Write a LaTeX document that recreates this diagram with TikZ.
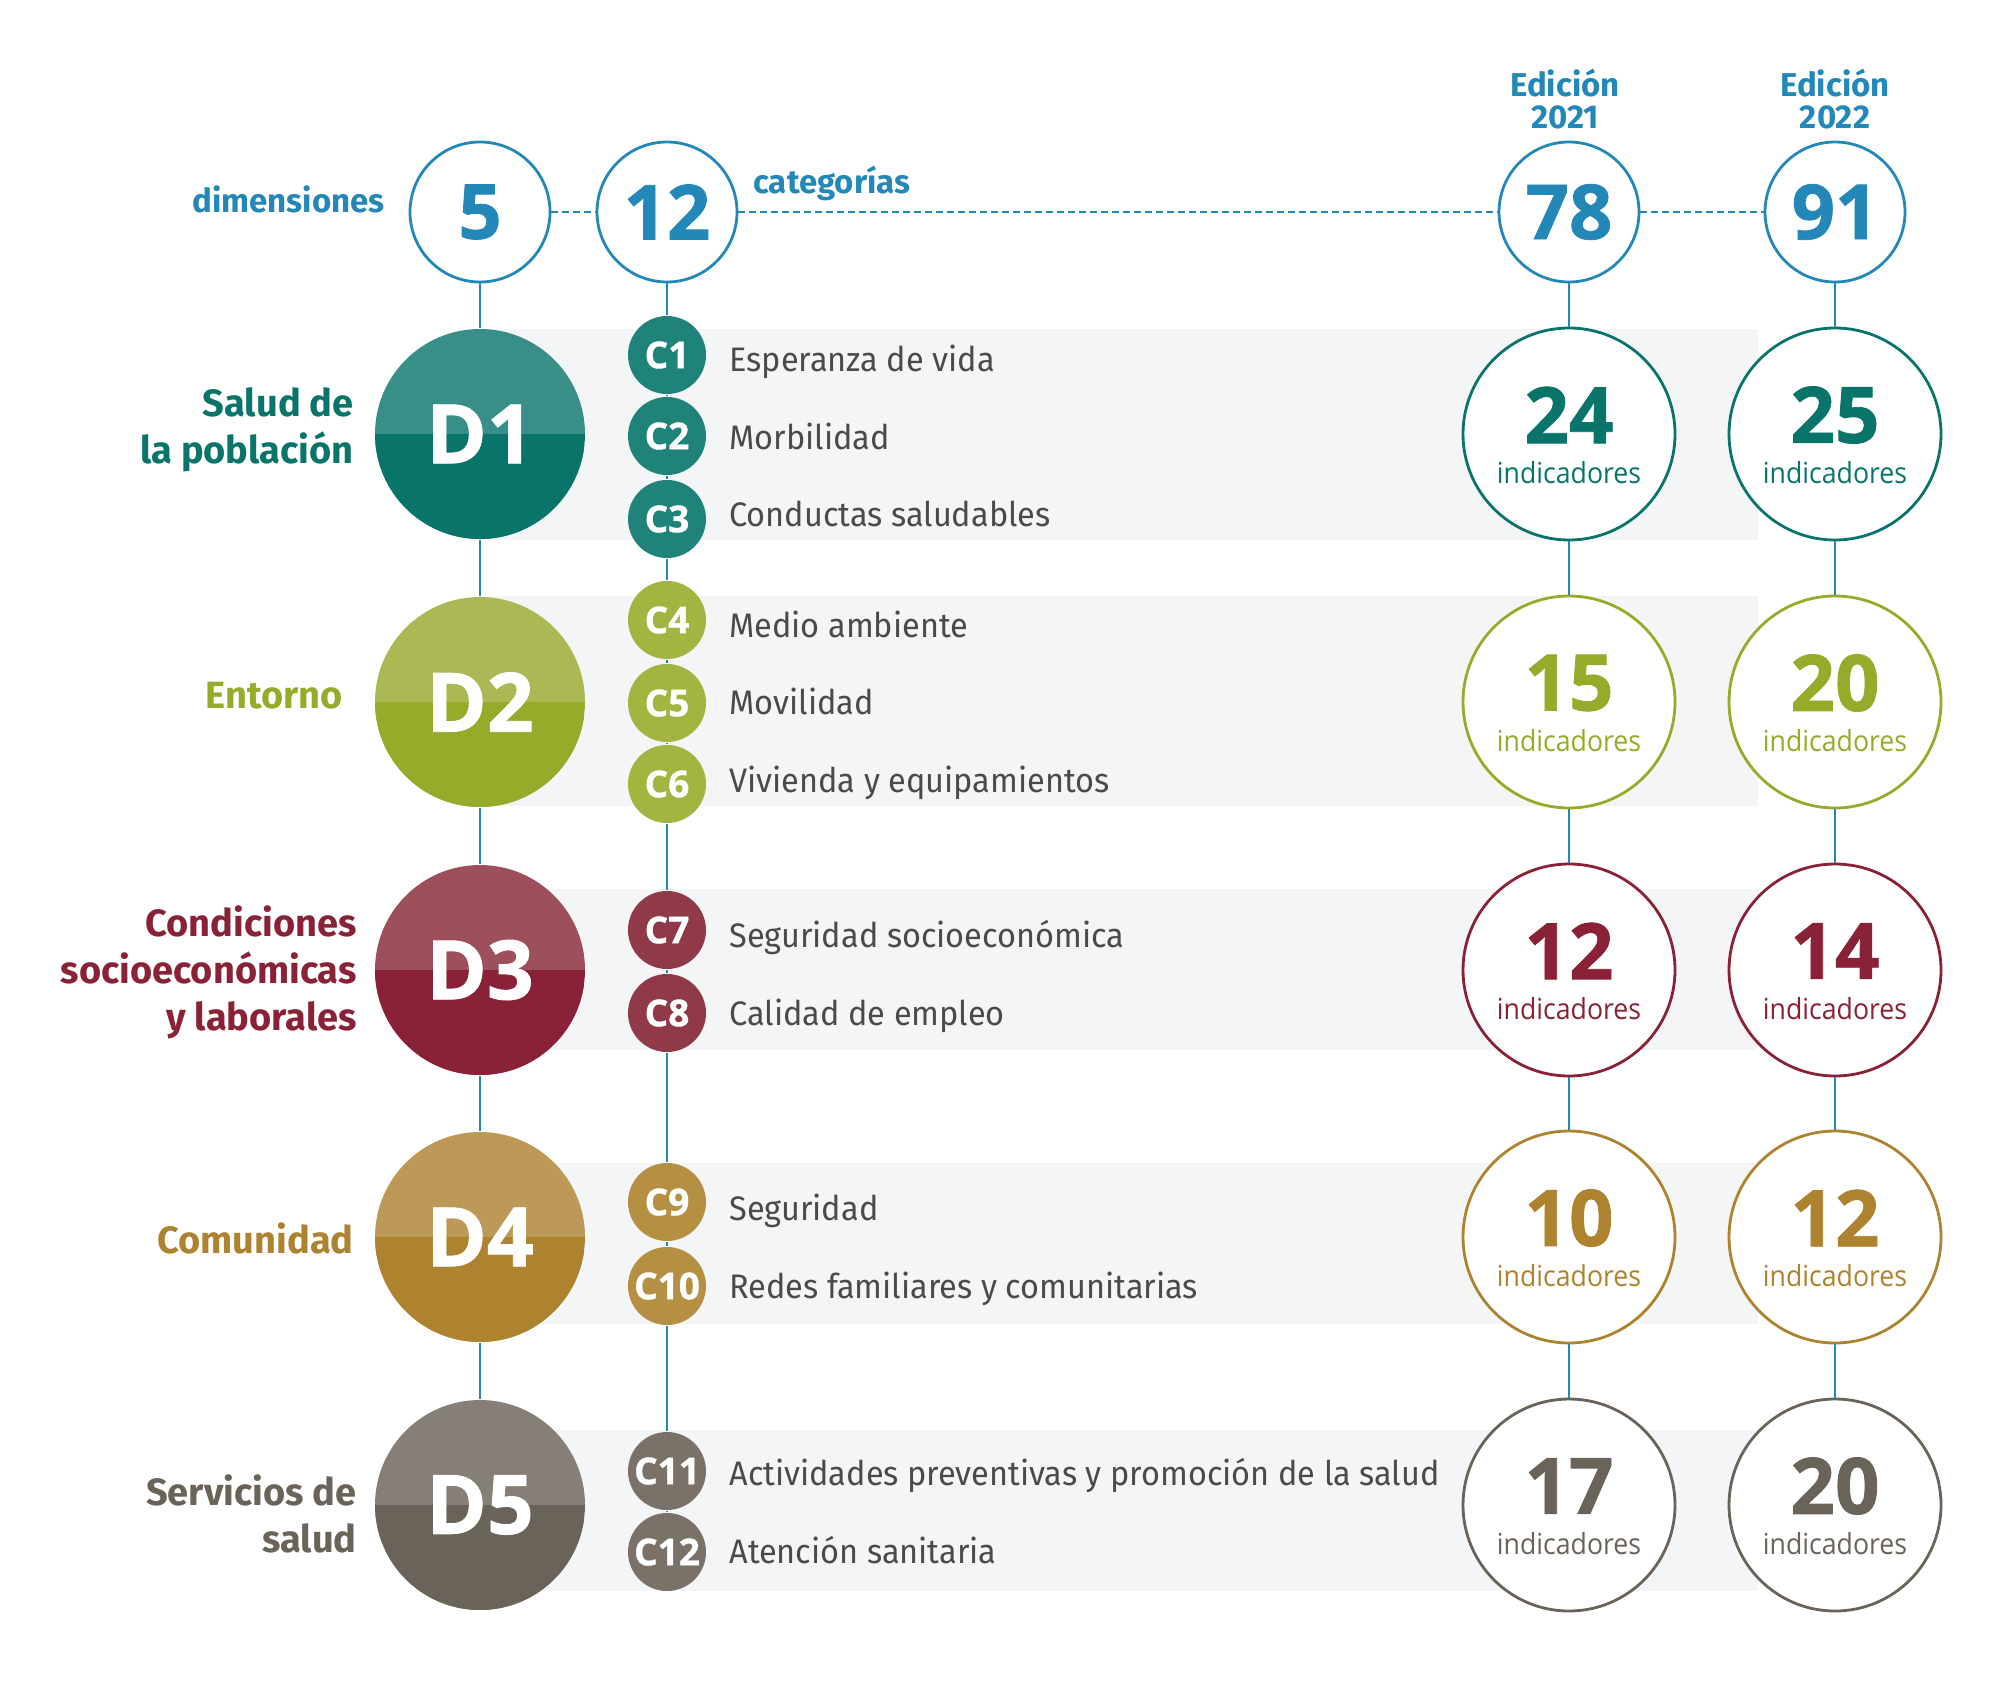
\documentclass[tikz,border=0pt]{standalone}
\usepackage{fontspec}
\setmainfont{Fira Sans}[FakeStretch=0.955]
\newfontfamily\headfont{Fira Sans}
\newfontfamily\numfont{Open Sans}[BoldFeatures={FakeBold=1}]
\newfontfamily\labfont{Open Sans}[FakeStretch=0.92]
\usetikzlibrary{positioning}

\definecolor{azul}{HTML}{2388B8}
\definecolor{banda}{HTML}{F4F5F7}
\definecolor{texto}{HTML}{4A4A4A}
\definecolor{tealA}{HTML}{388F87}
\definecolor{tealB}{HTML}{09756A}
\definecolor{tealC}{HTML}{1F8379}
\definecolor{olivA}{HTML}{ACB854}
\definecolor{olivB}{HTML}{98AA2A}
\definecolor{olivC}{HTML}{A4B440}
\definecolor{granA}{HTML}{9D4F5C}
\definecolor{granB}{HTML}{892236}
\definecolor{granC}{HTML}{903949}
\definecolor{oroA}{HTML}{BC9956}
\definecolor{oroB}{HTML}{AD832F}
\definecolor{oroC}{HTML}{B58F42}
\definecolor{grisA}{HTML}{867F77}
\definecolor{grisB}{HTML}{6A6359}
\definecolor{grisC}{HTML}{7A7269}

\tikzset{every picture/.style={line width=1.4pt}}

\begin{document}
\begin{tikzpicture}[x=0.5pt,y=-0.5pt,
  total/.style={circle,draw=azul,fill=white,minimum size=70pt,inner sep=0pt,text=azul,font=\numfont\fontsize{38}{38}\selectfont\bfseries},
  dimen/.style 2 args={circle,minimum size=105pt,inner sep=0pt,fill=#1,text=white,font=\numfont\fontsize{41}{41}\selectfont\bfseries,
    path picture={\fill[#2] (path picture bounding box.west) rectangle (path picture bounding box.south east);}},
  cat/.style={circle,fill=#1,minimum size=39pt,inner sep=0pt,text=white,font=\numfont\fontsize{18.5}{18.5}\selectfont\bfseries},
  ind/.style={circle,draw=#1,fill=white,minimum size=106pt,inner sep=0pt},
  num/.style={text=#1,font=\numfont\fontsize{39}{39}\selectfont\bfseries,yshift=9.5pt},
  lab/.style={text=#1,font=\labfont\fontsize{14.5}{14.5}\selectfont,yshift=-19.3pt},
  item/.style={anchor=base west,inner sep=0pt,text=texto,font=\fontsize{17}{17}\selectfont},
  dimname/.style={anchor=east,align=right,inner sep=0pt,text=#1,font=\headfont\fontsize{19}{23.5}\selectfont\bfseries},
  head/.style={inner sep=0pt,text=azul,font=\headfont\fontsize{16.5}{16}\selectfont\bfseries},
  link/.style={draw=azul},
  dots/.style={draw=azul,line width=1pt,dash pattern=on 3.2pt off 2.3pt}]
  \useasboundingbox (0,0) rectangle (2000,1689);

  % bandas
  \fill[banda] (480,329) rectangle (1758,540);
  \fill[banda] (480,596) rectangle (1758,806);
  \fill[banda] (480,889) rectangle (1758,1050);
  \fill[banda] (480,1163) rectangle (1758,1324);
  \fill[banda] (480,1430) rectangle (1758,1591);

  % cabecera
  \node[total] (n5) at (480,212) {5};
  \node[total] (n12) at (667,212) {12};
  \node[total] (n78) at (1569,212) {78};
  \node[total] (n91) at (1835,212) {91};
  \node[head,anchor=base east] (dimtxt) at (386,213) {dimensiones};
  \node[head,anchor=base west] (cattxt) at (752,194) {categorías};
  \node[head,align=center,above=5pt of n78,xshift=-2pt] (ed21) {Edición\\2021};
  \node[head,align=center,above=5pt of n91] (ed22) {Edición\\2022};

  % dimensiones
  \node[dimen={tealA}{tealB}] (d1) at (480,434) {D1};
  \node[dimen={olivA}{olivB}] (d2) at (480,702) {D2};
  \node[dimen={granA}{granB}] (d3) at (480,970) {D3};
  \node[dimen={oroA}{oroB}] (d4) at (480,1237) {D4};
  \node[dimen={grisA}{grisB}] (d5) at (480,1505) {D5};
  \node[dimname=tealB] (t1) at (355,430) {Salud de\\la población};
  \node[dimname=olivB] (t2) at (344,696) {Entorno};
  \node[dimname=granB] (t3) at (358,972) {Condiciones\\socioeconómicas\\y laborales};
  \node[dimname=oroB] (t4) at (355,1238) {Comunidad};
  \node[dimname=grisB] (t5) at (358,1514) {Servicios de\\salud};

  % categorias
  \node[cat=tealC] (c1) at (667,355) {C1};
  \node[cat=tealC] (c2) at (667,436) {C2};
  \node[cat=tealC] (c3) at (667,519) {C3};
  \node[cat=olivC] (c4) at (667,620) {C4};
  \node[cat=olivC] (c5) at (667,703) {C5};
  \node[cat=olivC] (c6) at (667,784) {C6};
  \node[cat=granC] (c7) at (667,930) {C7};
  \node[cat=granC] (c8) at (667,1013) {C8};
  \node[cat=oroC] (c9) at (667,1202) {C9};
  \node[cat=oroC] (c10) at (667,1286) {C10};
  \node[cat=grisC] (c11) at (667,1471) {C11};
  \node[cat=grisC] (c12) at (667,1552) {C12};
  \node[item] (e1) at (728,372) {Esperanza de vida};
  \node[item] (e2) at (728,450) {Morbilidad};
  \node[item] (e3) at (728,527) {Conductas saludables};
  \node[item] (e4) at (728,637) {Medio ambiente};
  \node[item] (e5) at (728,714) {Movilidad};
  \node[item] (e6) at (728,792) {Vivienda y equipamientos};
  \node[item] (e7) at (728,947) {Seguridad socioeconómica};
  \node[item] (e8) at (728,1025) {Calidad de empleo};
  \node[item] (e9) at (728,1220) {Seguridad};
  \node[item] (e10) at (728,1298) {Redes familiares y comunitarias};
  \node[item] (e11) at (728,1485) {Actividades preventivas y promoción de la salud};
  \node[item] (e12) at (728,1563) {Atención sanitaria};

  % indicadores por edicion
  \node[ind=tealB,label={[num=tealB]center:24},label={[lab=tealB]center:indicadores}] (a1) at (1569,434) {};
  \node[ind=olivB,label={[num=olivB]center:15},label={[lab=olivB]center:indicadores}] (a2) at (1569,702) {};
  \node[ind=granB,label={[num=granB]center:12},label={[lab=granB]center:indicadores}] (a3) at (1569,970) {};
  \node[ind=oroB,label={[num=oroB]center:10},label={[lab=oroB]center:indicadores}] (a4) at (1569,1237) {};
  \node[ind=grisB,label={[num=grisB]center:17},label={[lab=grisB]center:indicadores}] (a5) at (1569,1505) {};
  \node[ind=tealB,label={[num=tealB]center:25},label={[lab=tealB]center:indicadores}] (b1) at (1835,434) {};
  \node[ind=olivB,label={[num=olivB]center:20},label={[lab=olivB]center:indicadores}] (b2) at (1835,702) {};
  \node[ind=granB,label={[num=granB]center:14},label={[lab=granB]center:indicadores}] (b3) at (1835,970) {};
  \node[ind=oroB,label={[num=oroB]center:12},label={[lab=oroB]center:indicadores}] (b4) at (1835,1237) {};
  \node[ind=grisB,label={[num=grisB]center:20},label={[lab=grisB]center:indicadores}] (b5) at (1835,1505) {};

  % conexiones
  \draw[dots] (n5) -- (n12);
  \draw[dots] (n12) -- (n78);
  \draw[dots] (n78) -- (n91);
  \draw[link] (n5) -- (d1) (d1) -- (d2) (d2) -- (d3) (d3) -- (d4) (d4) -- (d5);
  \draw[link] (n12) -- (c1) (c1) -- (c2) (c2) -- (c3) (c3) -- (c4) (c4) -- (c5) (c5) -- (c6)
    (c6) -- (c7) (c7) -- (c8) (c8) -- (c9) (c9) -- (c10) (c10) -- (c11) (c11) -- (c12);
  \draw[link] (n78) -- (a1) (a1) -- (a2) (a2) -- (a3) (a3) -- (a4) (a4) -- (a5);
  \draw[link] (n91) -- (b1) (b1) -- (b2) (b2) -- (b3) (b3) -- (b4) (b4) -- (b5);
\end{tikzpicture}
\end{document}
